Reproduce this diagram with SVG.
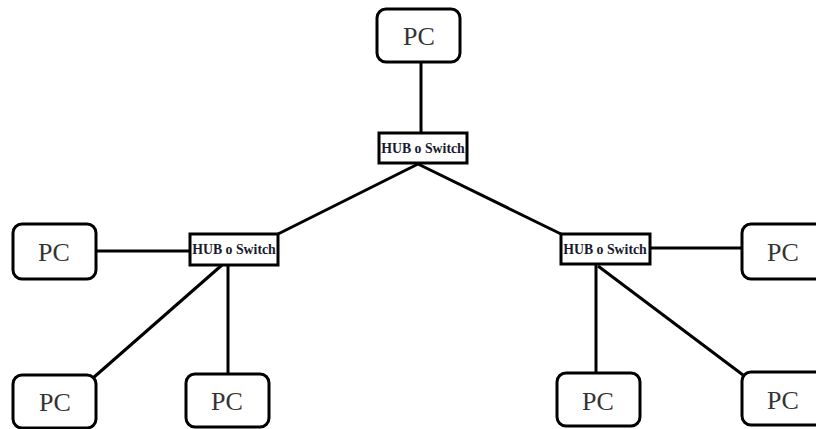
<svg xmlns="http://www.w3.org/2000/svg" width="816" height="429" viewBox="0 0 816 429">
<style>
.pc{fill:#fff;stroke:#000;stroke-width:3}
.pct{font-family:"Liberation Serif",serif;font-size:26px;fill:#333;text-anchor:middle}
.hub{fill:#fff;stroke:#000;stroke-width:3}
.hubt{font-family:"Liberation Serif",serif;font-size:13.8px;font-weight:bold;fill:#1a1a2e;text-anchor:middle}
.ln{stroke:#000;stroke-width:3;fill:none}
</style>
<rect width="816" height="429" fill="#fff"/>
<g id="connectors">
<line class="ln" x1="421" y1="62" x2="421" y2="148"/>
<line class="ln" x1="418" y1="164" x2="278" y2="234"/>
<line class="ln" x1="418" y1="164" x2="561" y2="234"/>
<line class="ln" x1="96" y1="251" x2="196" y2="251"/>
<line class="ln" x1="228" y1="258" x2="228" y2="374"/>
<line class="ln" x1="222" y1="265" x2="93" y2="378"/>
<line class="ln" x1="650" y1="248" x2="743" y2="248"/>
<line class="ln" x1="596" y1="264" x2="596" y2="373"/>
<line class="ln" x1="598" y1="266" x2="743" y2="375"/>
</g>
<g id="pc-top"><rect class="pc" x="377" y="9" width="83" height="53" rx="9"/><text class="pct" x="419" y="45">PC</text></g>
<g id="hub-top"><rect class="hub" x="379" y="133" width="88" height="30"/><text class="hubt" x="423" y="153">HUB o Switch</text></g>
<g id="hub-left"><rect class="hub" x="190" y="234" width="88" height="31"/><text class="hubt" x="234" y="254">HUB o Switch</text></g>
<g id="hub-right"><rect class="hub" x="561" y="234" width="89" height="30"/><text class="hubt" x="605" y="254">HUB o Switch</text></g>
<g id="pc-left"><rect class="pc" x="13" y="224" width="83" height="55" rx="9"/><text class="pct" x="54" y="261">PC</text></g>
<g id="pc-right"><rect class="pc" x="742" y="224" width="83" height="55" rx="9"/><text class="pct" x="783" y="261">PC</text></g>
<g id="pc-bl1"><rect class="pc" x="13" y="375" width="83" height="53" rx="9"/><text class="pct" x="55" y="411">PC</text></g>
<g id="pc-bl2"><rect class="pc" x="186" y="374" width="83" height="53" rx="9"/><text class="pct" x="227" y="410">PC</text></g>
<g id="pc-br1"><rect class="pc" x="557" y="373" width="83" height="53" rx="9"/><text class="pct" x="598" y="410">PC</text></g>
<g id="pc-br2"><rect class="pc" x="742" y="372" width="83" height="53" rx="9"/><text class="pct" x="783" y="409">PC</text></g>
</svg>
